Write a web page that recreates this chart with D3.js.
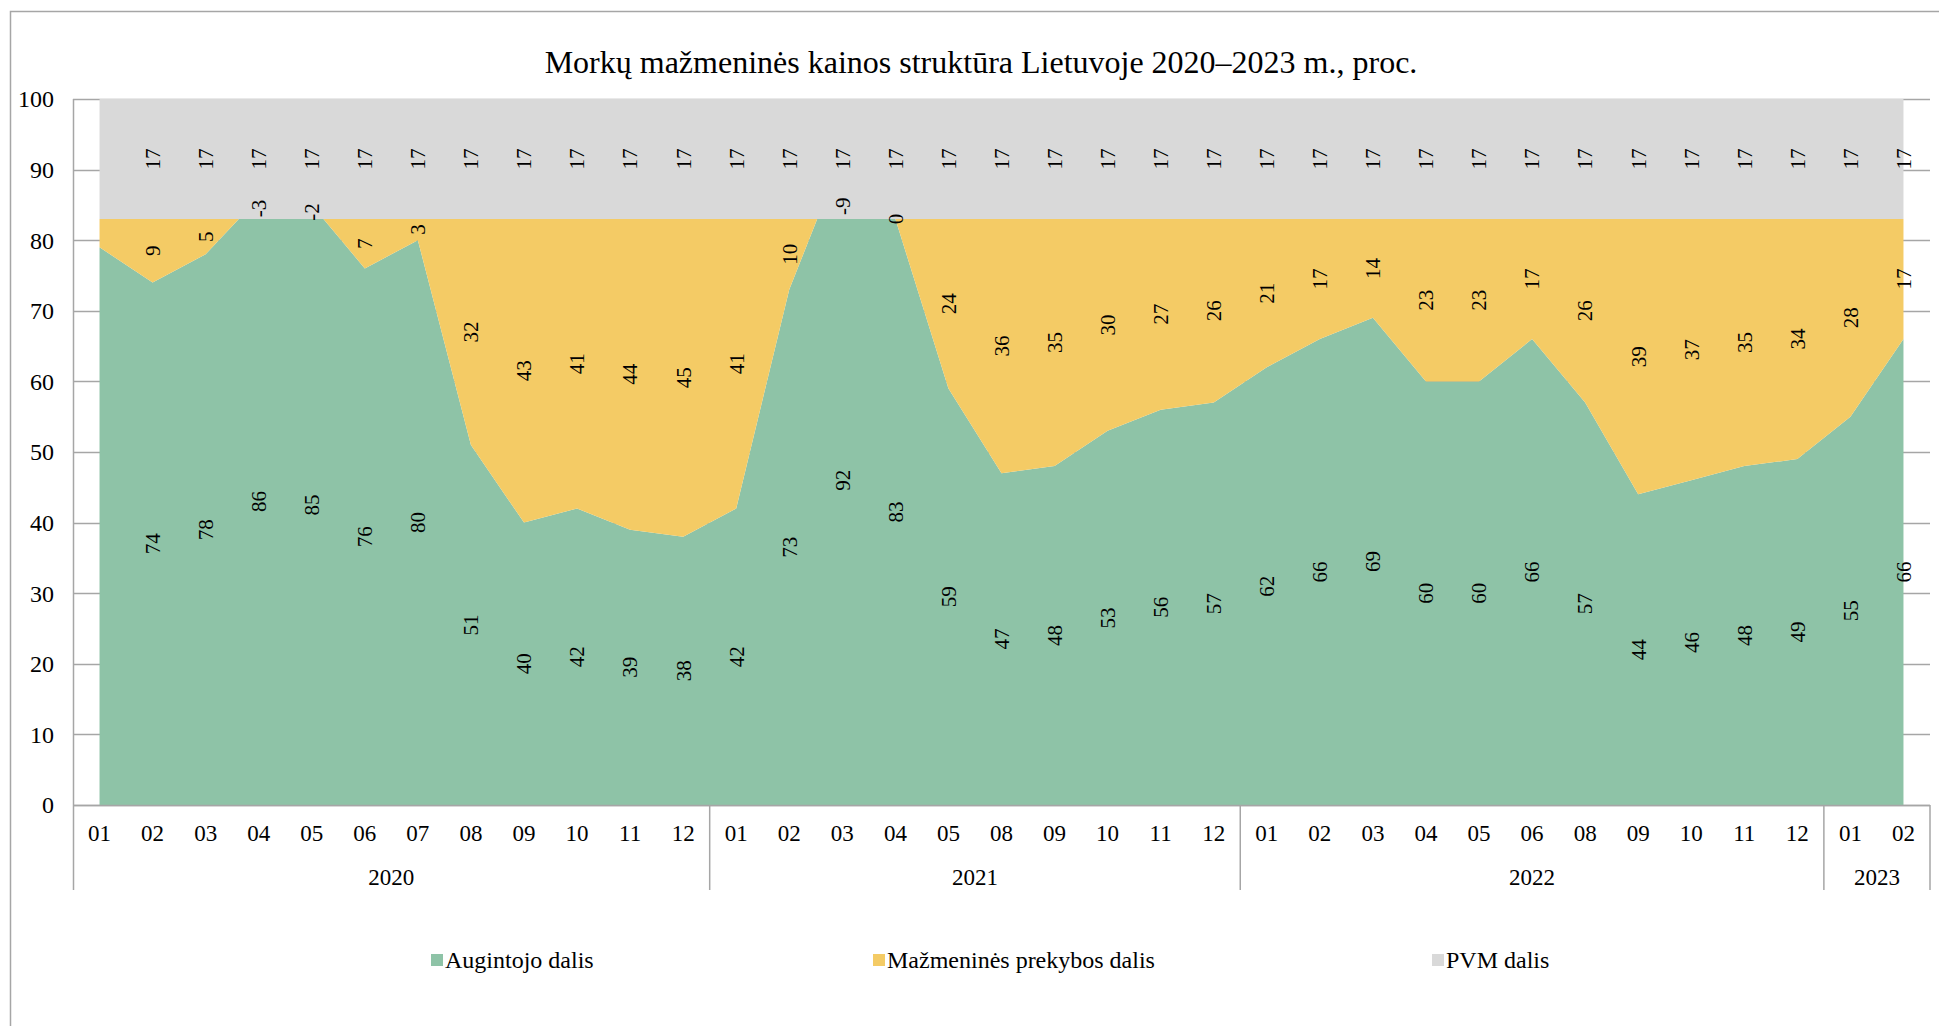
<!DOCTYPE html>
<html>
<head>
<meta charset="utf-8">
<script src="https://cdn.jsdelivr.net/npm/d3@7"></script>
<style>
  html, body { margin: 0; padding: 0; background: #fff; }
  svg { display: block; font-family: "Liberation Serif", "Times New Roman", serif; }
</style>
</head>
<body>
<svg id="chart" width="1939" height="1026"></svg>
<script>
const title = "Morkų mažmeninės kainos struktūra Lietuvoje 2020–2023 m., proc.";
const years = ["2020", "2021", "2022", "2023"];
const months = [
  ["01","02","03","04","05","06","07","08","09","10","11","12"],
  ["01","02","03","04","05","08","09","10","11","12"],
  ["01","02","03","04","05","06","08","09","10","11","12"],
  ["01","02"]
];
const grower = [79,74,78,86,85,76,80,51,40,42,39,38, 42,73,92,83,59,47,48,53,56,57, 62,66,69,60,60,66,57,44,46,48,49, 55,66];
const retail = [4,9,5,-3,-2,7,3,32,43,41,44,45, 41,10,-9,0,24,36,35,30,27,26, 21,17,14,23,23,17,26,39,37,35,34, 28,17];
const vat    = [17,17,17,17,17,17,17,17,17,17,17,17, 17,17,17,17,17,17,17,17,17,17, 17,17,17,17,17,17,17,17,17,17,17, 17,17];
const seriesNames = ["Augintojo dalis", "Mažmeninės prekybos dalis", "PVM dalis"];
const colors = ["#8ec3a7", "#f4cb65", "#d9d9d9"];
const yTicks = [0,10,20,30,40,50,60,70,80,90,100];

(function () {
const cats = [];
months.forEach((ms, gi) => ms.forEach(m => cats.push({key: years[gi] + "-" + m, month: m, group: gi})));
const seriesVals = [grower, retail, vat];

const svg = d3.select("#chart");
const pLeft = 73, pRight = 1930, pTop = 99, pBottom = 805;

const x = d3.scaleBand().domain(cats.map(c => c.key)).range([pLeft, pRight]).padding(0);
const y = d3.scaleLinear().domain([0, 100]).range([pBottom, pTop]);
const cx = k => x(k) + x.bandwidth() / 2;

// outer frame
svg.append("path").attr("d", "M10.5,1026 L10.5,11.5 L1939,11.5")
  .attr("fill", "none").attr("stroke", "#a6a6a6").attr("stroke-width", 1.5);

// title
svg.append("text").attr("x", 981).attr("y", 73).attr("text-anchor", "middle")
  .attr("font-size", 32).attr("fill", "#000").text(title);

// gridlines
svg.append("g").selectAll("line").data(yTicks).join("line")
  .attr("x1", pLeft).attr("x2", pRight)
  .attr("y1", d => Math.round(y(d)) + 0.5).attr("y2", d => Math.round(y(d)) + 0.5)
  .attr("stroke", "#a6a6a6").attr("stroke-width", 1.5);

// stacked cumulative
const rows = cats.map((c, i) => {
  const g = grower[i], r = retail[i], v = vat[i];
  return {key: c.key, b: [[0, g], [g, g + r], [g + r, g + r + v]]};
});

const plot = svg.append("g");
[0, 1, 2].forEach(s => {
  const area = d3.area()
    .x(d => cx(d.key))
    .y0(d => y(d.b[s][0]))
    .y1(d => y(d.b[s][1]));
  plot.append("path").datum(rows).attr("d", area).attr("fill", colors[s]).attr("stroke", "none");
});

// data labels (rotated)
const lbl = svg.append("g").attr("font-size", 21).attr("fill", "#000");
[0, 1, 2].forEach(s => {
  rows.forEach((d, i) => {
    if (i === 0) return;
    let mid = (d.b[s][0] + d.b[s][1]) / 2;
    if (seriesVals[s][i] < 0) mid = Math.min(mid, d.b[s][1] + 1.8);
    const px = cx(d.key), py = y(mid);
    lbl.append("text")
      .attr("transform", `translate(${px},${py}) rotate(-90)`)
      .attr("text-anchor", "middle").attr("dy", "0.35em")
      .text(seriesVals[s][i]);
  });
});

// axes lines
svg.append("line").attr("x1", pLeft + 0.5).attr("x2", pLeft + 0.5).attr("y1", pTop).attr("y2", 890)
  .attr("stroke", "#a6a6a6").attr("stroke-width", 1.5);
svg.append("line").attr("x1", pLeft).attr("x2", pRight).attr("y1", pBottom + 0.5).attr("y2", pBottom + 0.5)
  .attr("stroke", "#a6a6a6").attr("stroke-width", 1.5);

// y tick labels
svg.append("g").selectAll("text").data(yTicks).join("text")
  .attr("x", 54).attr("y", d => y(d)).attr("dy", "0.35em")
  .attr("text-anchor", "end").attr("font-size", 24).text(d => d);

// month labels
svg.append("g").selectAll("text").data(cats).join("text")
  .attr("x", d => cx(d.key)).attr("y", 841).attr("text-anchor", "middle")
  .attr("font-size", 23).text(d => d.month);

// group separators and year labels
let start = 0;
const bw = x.bandwidth();
months.forEach((ms, gi) => {
  const x0 = x(cats[start].key);
  const x1 = x(cats[start + ms.length - 1].key) + bw;
  svg.append("line").attr("x1", x1).attr("x2", x1).attr("y1", pBottom).attr("y2", 890)
    .attr("stroke", "#a6a6a6").attr("stroke-width", 1.5);
  svg.append("text").attr("x", (x0 + x1) / 2).attr("y", 885).attr("text-anchor", "middle")
    .attr("font-size", 23).text(years[gi]);
  start += ms.length;
});

// legend
const legendX = [431, 873, 1432];
const lg = svg.append("g");
seriesNames.forEach((n, i) => {
  lg.append("rect").attr("x", legendX[i]).attr("y", 954).attr("width", 12).attr("height", 12).attr("fill", colors[i]);
  lg.append("text").attr("x", legendX[i] + 14).attr("y", 968).attr("font-size", 24).text(n);
});
})();
</script>
</body>
</html>
